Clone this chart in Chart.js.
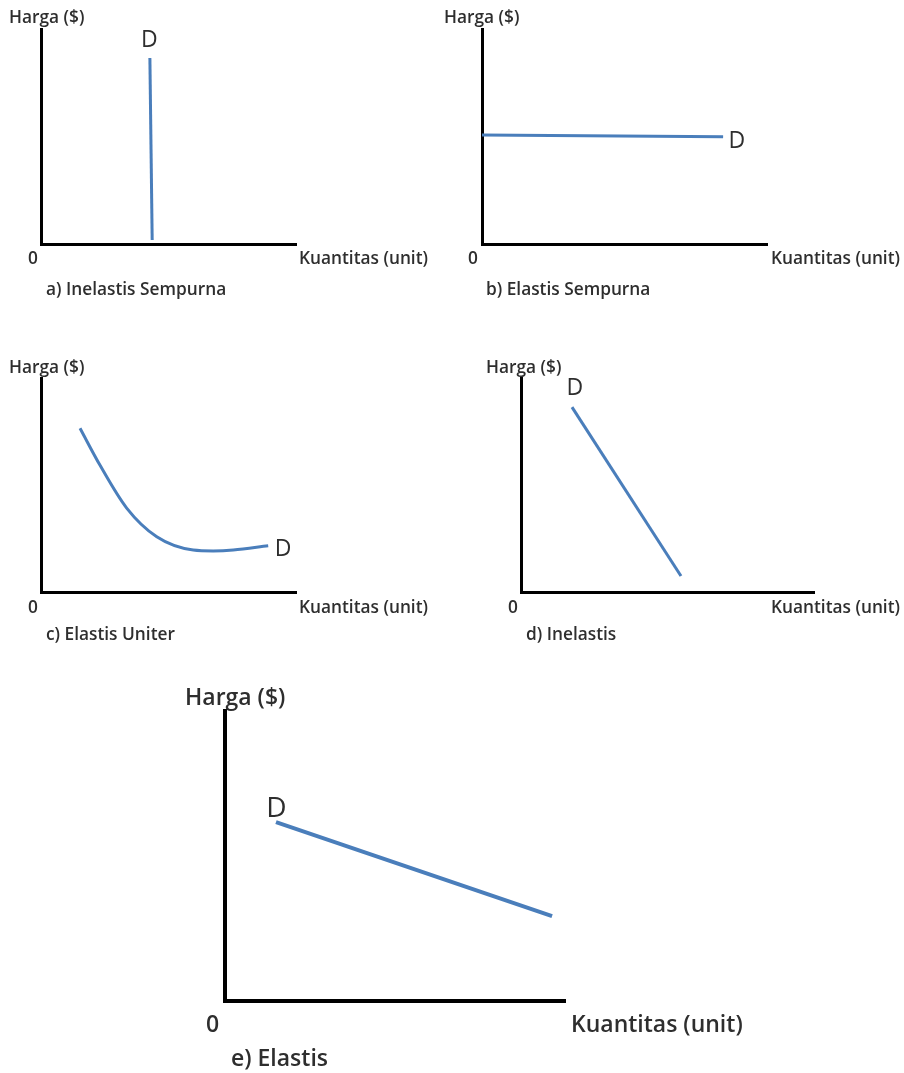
<!DOCTYPE html>
<html>
<head>
<meta charset="utf-8">
<script src="https://cdn.jsdelivr.net/npm/chart.js@4.4.1/dist/chart.umd.min.js"></script>
<style>
  html, body { margin: 0; padding: 0; background: #fff; }
  #page { position: relative; width: 904px; height: 1073px; overflow: hidden; }
  #page canvas { position: absolute; }
  .lbl { position: absolute; font-family: "Open Sans", sans-serif; font-weight: 600; color: #2e2e2e;
         line-height: 1; white-space: nowrap; transform: translateY(-50%); }
  .dlbl { position: absolute; font-family: "Open Sans", sans-serif; font-weight: 400; color: #2e2e2e;
          line-height: 1; transform: translate(-50%, -50%); }
</style>
</head>
<body>
<div id="page"></div>
<script>
/* ============================================================
   DEMAND ELASTICITY CURVES (5 panels)
   all axes run 0..10
   ============================================================ */

// a) perfectly inelastic
const aQty   = [4.27, 4.36];
const aPrice = [8.65, 0.19];
// b) perfectly elastic
const bQty   = [0, 8.46];
const bPrice = [5.07, 4.99];
// c) unit elastic
const cQty   = [1.53, 2.31, 3.36, 4.54, 5.97, 6.75, 7.54, 8.91];
const cPrice = [7.65, 5.93, 3.92, 2.58, 1.96, 1.92, 1.96, 2.16];
// d) inelastic
const dQty   = [1.74, 5.46];
const dPrice = [8.64, 0.75];
// e) elastic
const eQty   = [1.5, 9.62];
const ePrice = [6.17, 2.93];

const yTitle = 'Harga ($)';
const xTitle = 'Kuantitas (unit)';
const originLabel = '0';
const curveLabel = 'D';
const captions = ['a) Inelastis Sempurna', 'b) Elastis Sempurna', 'c) Elastis Uniter', 'd) Inelastis', 'e) Elastis'];

const BLUE = '#4a7ebb';
const PAD = 12;

// area = [left, top, width, height] of the plot box in page pixels
const panels = [
  { area: [41, 29, 255, 215], qty: aQty, price: aPrice, line: 3, axis: 3, font: 17.3, dFont: 23, dAt: 0, dOff: [-0.5, -20.5],
    pos: { y: [9, 16.7], o: [28, 257.7], x: [299, 257.7], cap: [46, 288.5] } },
  { area: [482, 29, 285, 215], qty: bQty, price: bPrice, line: 3, axis: 3, font: 17.3, dFont: 23, dAt: 1, dOff: [13.7, 2.7],
    pos: { y: [444, 16.7], o: [468, 257.7], x: [771, 257.7], cap: [486, 288.5] } },
  { area: [41, 378, 255, 214], qty: cQty, price: cPrice, line: 3, axis: 3, font: 17.3, dFont: 23, dAt: 7, dOff: [15, 1.2], curve: true,
    pos: { y: [9, 366.5], o: [28, 606.7], x: [299, 606.7], cap: [46, 634] } },
  { area: [521, 378, 293, 214], qty: dQty, price: dPrice, line: 3, axis: 3, font: 17.3, dFont: 23, dAt: 0, dOff: [3, -20.7],
    pos: { y: [486, 366.5], o: [508, 606.7], x: [771, 606.7], cap: [526, 634] } },
  { area: [225, 711, 340, 290], qty: eQty, price: ePrice, line: 4, axis: 4, font: 23, dFont: 28, dAt: 0, dOff: [0.5, -16],
    pos: { y: [185, 696], o: [206, 1023], x: [571, 1023], cap: [231, 1057] } }
];

const page = document.getElementById('page');
const dEls = {};

function addText(txt, left, cy, size) {
  const el = document.createElement('div');
  el.className = 'lbl';
  el.textContent = txt;
  el.style.left = left + 'px';
  el.style.top = cy + 'px';
  el.style.fontSize = size + 'px';
  page.appendChild(el);
}

// puts the "D" next to a chosen point of the curve, using the chart's own scales
const dLabelPlugin = {
  id: 'dLabel',
  afterRender(chart) {
    const info = dEls[chart.canvas.id];
    if (!info) return;
    const pt = chart.getDatasetMeta(0).data[info.at];
    info.el.style.left = (info.left + pt.x + info.off[0]) + 'px';
    info.el.style.top = (info.top + pt.y + info.off[1]) + 'px';
  }
};

panels.forEach((p, i) => {
  const [l, t, w, h] = p.area;
  const canvas = document.createElement('canvas');
  canvas.id = 'panel' + i;
  canvas.width = w + PAD * 2;
  canvas.height = h + PAD * 2;
  canvas.style.left = (l - PAD) + 'px';
  canvas.style.top = (t - PAD) + 'px';
  page.appendChild(canvas);

  addText(yTitle, p.pos.y[0], p.pos.y[1], p.font);
  addText(originLabel, p.pos.o[0], p.pos.o[1], p.font);
  addText(xTitle, p.pos.x[0], p.pos.x[1], p.font);
  addText(captions[i], p.pos.cap[0], p.pos.cap[1], p.font);

  const d = document.createElement('div');
  d.className = 'dlbl';
  d.textContent = curveLabel;
  d.style.fontSize = p.dFont + 'px';
  page.appendChild(d);
  dEls[canvas.id] = { el: d, at: p.dAt, off: p.dOff, left: l - PAD, top: t - PAD };

  const axis = (horizontal) => ({
    type: 'linear', min: 0, max: 10,
    grid: { display: false, drawTicks: false },
    ticks: { display: false },
    border: { display: true, color: '#000', width: p.axis },
    afterFit(s) { if (horizontal) s.height = 0; else s.width = 0; }
  });

  new Chart(canvas.getContext('2d'), {
    type: 'scatter',
    data: {
      datasets: [{
        data: p.qty.map((x, k) => ({ x, y: p.price[k] })),
        showLine: true,
        borderColor: BLUE,
        borderWidth: p.line,
        pointRadius: 0,
        pointHoverRadius: 0,
        cubicInterpolationMode: p.curve ? 'monotone' : 'default',
        fill: false
      }]
    },
    options: {
      responsive: false,
      animation: false,
      devicePixelRatio: 1,
      events: [],
      layout: { padding: PAD },
      plugins: { legend: { display: false }, tooltip: { enabled: false } },
      scales: { x: axis(true), y: axis(false) }
    },
    plugins: [dLabelPlugin]
  });
});
</script>
</body>
</html>
